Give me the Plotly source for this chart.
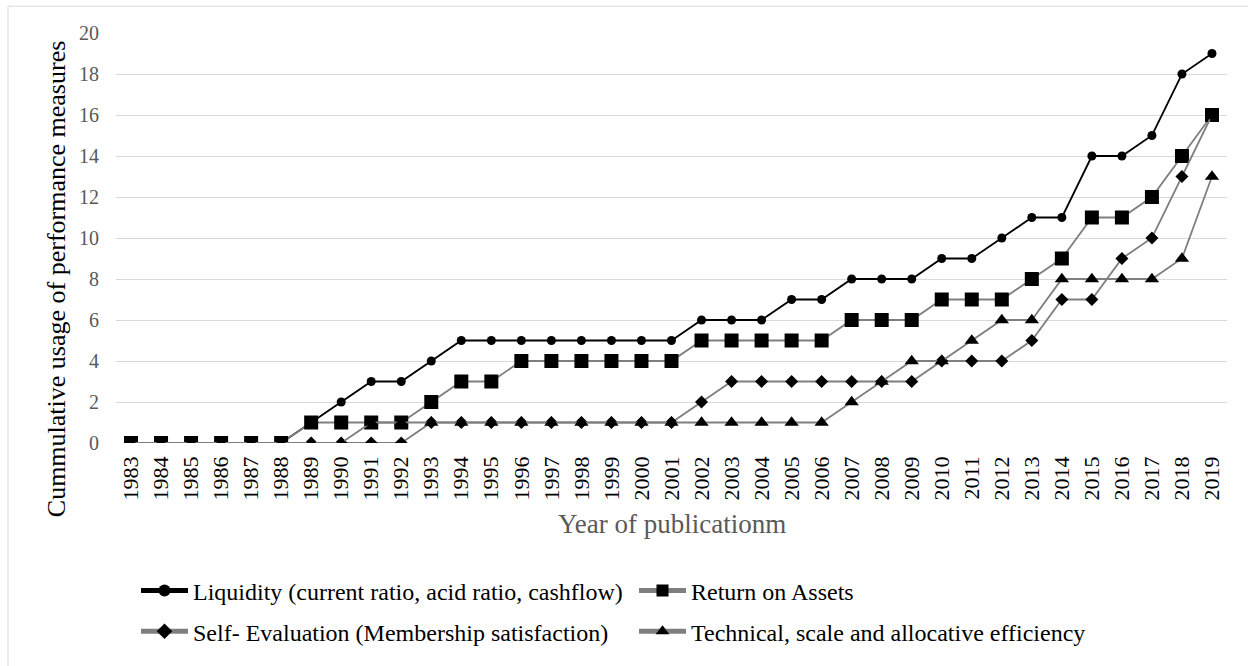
import plotly.graph_objects as go

years = [str(y) for y in range(1983, 2020)]

liquidity = [0, 0, 0, 0, 0, 0, 1, 2, 3, 3, 4, 5, 5, 5, 5, 5, 5, 5, 5, 6, 6, 6, 7, 7, 8, 8, 8, 9, 9, 10, 11, 11, 14, 14, 15, 18, 19]
roa = [0, 0, 0, 0, 0, 0, 1, 1, 1, 1, 2, 3, 3, 4, 4, 4, 4, 4, 4, 5, 5, 5, 5, 5, 6, 6, 6, 7, 7, 7, 8, 9, 11, 11, 12, 14, 16]
self_eval = [0, 0, 0, 0, 0, 0, 0, 0, 0, 0, 1, 1, 1, 1, 1, 1, 1, 1, 1, 2, 3, 3, 3, 3, 3, 3, 3, 4, 4, 4, 5, 7, 7, 9, 10, 13, 16]
technical = [0, 0, 0, 0, 0, 0, 0, 0, 1, 1, 1, 1, 1, 1, 1, 1, 1, 1, 1, 1, 1, 1, 1, 1, 2, 3, 4, 4, 5, 6, 6, 8, 8, 8, 8, 9, 13]

names = [
    "Liquidity (current ratio, acid ratio, cashflow)",
    "Return on Assets",
    "Self- Evaluation (Membership satisfaction)",
    "Technical, scale and allocative efficiency",
]
x_title = "Year of publicationm"
y_title = "Cummulative usage of performance measures"

serif = "Liberation Serif, Times New Roman, serif"

fig = go.Figure()
specs = [
    (liquidity, names[0], "#000000", "circle", 9, "legend"),
    (roa, names[1], "#7f7f7f", "square", 14, "legend"),
    (self_eval, names[2], "#7f7f7f", "diamond", 10, "legend2"),
    (technical, names[3], "#7f7f7f", "triangle-up", 12.5, "legend2"),
]
for vals, name, col, sym, sz, leg in specs:
    fig.add_trace(go.Scatter(
        x=years, y=vals, name=name, mode="lines+markers",
        line=dict(color=col, width=1.8),
        marker=dict(symbol=sym, size=sz, color="#000000", line=dict(width=0)),
        legend=leg,
    ))

L, R, T, B = 116, 21, 33, 220
pw = 1248 - L - R
ph = 666 - T - B

def px(x):
    return (x - L) / pw

def py(y):
    return (666 - B - y) / ph

legend_common = dict(
    orientation="h", xanchor="left", yanchor="middle",
    font=dict(family=serif, size=24, color="#000000"),
    entrywidth=436, entrywidthmode="pixels", itemwidth=47,
    bgcolor="rgba(0,0,0,0)", itemsizing="constant",
)

fig.update_layout(
    width=1248, height=666,
    margin=dict(l=L, r=R, t=T, b=B),
    paper_bgcolor="white", plot_bgcolor="white",
    showlegend=True,
    legend=dict(x=px(136), y=py(595), **legend_common),
    legend2=dict(x=px(136), y=py(636), **legend_common),
    xaxis=dict(
        type="category", range=[-0.5, 36.5], tickangle=-90,
        showgrid=False, zeroline=False, showline=False, ticks="",
        automargin=False, ticklabelstandoff=8,
        tickfont=dict(family=serif, size=22, color="#000000"),
    ),
    yaxis=dict(
        range=[0, 20], dtick=2, showgrid=True, gridcolor="#d9d9d9", gridwidth=1.3,
        zeroline=False, showline=False, ticks="",
        automargin=False, ticklabelstandoff=16,
        tickfont=dict(family=serif, size=20, color="#595959"),
    ),
    annotations=[
        dict(text=x_title, xref="paper", yref="paper", x=0.5, y=py(528),
             xanchor="center", yanchor="middle", showarrow=False,
             font=dict(family=serif, size=27, color="#595959")),
        dict(text=y_title, xref="paper", yref="paper", x=px(56), y=py(281),
             xanchor="center", yanchor="middle", showarrow=False, textangle=-90,
             font=dict(family=serif, size=26, color="#000000")),
    ],
    shapes=[
        dict(type="rect", xref="paper", yref="paper",
             x0=px(8), x1=px(1400), y0=py(800), y1=py(6),
             line=dict(color="#d9d9d9", width=1), layer="below"),
    ],
)

fig.write_html("out.html", config={"displayModeBar": False},
               post_script="document.body.style.margin='0';")
